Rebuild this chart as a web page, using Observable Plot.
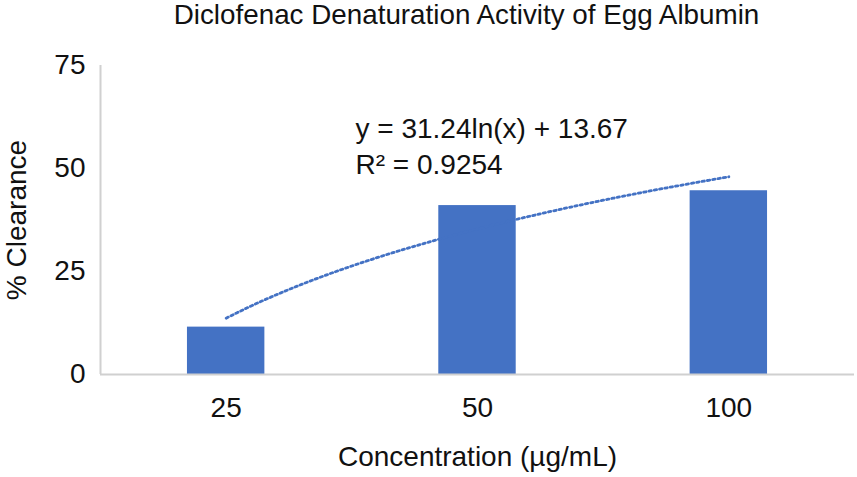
<!DOCTYPE html>
<html>
<head>
<meta charset="utf-8">
<script src="https://cdn.jsdelivr.net/npm/d3@7"></script>
<script src="https://cdn.jsdelivr.net/npm/@observablehq/plot@0.6"></script>
<style>
  html, body { margin: 0; padding: 0; background: #fff; }
  #title { width: 857px; height: 30px; line-height: 30px; box-sizing: border-box; padding-left: 76px;
           text-align: center; font-family: "Liberation Sans", Arial, sans-serif; font-size: 27.8px; color: #111; white-space: nowrap; }
  svg { display: block; }
</style>
</head>
<body>
<div id="title">Diclofenac Denaturation Activity of Egg Albumin</div>
<div id="chart"></div>
<script>
// Data
const categories = ["25", "50", "100"];
const clearance = [11.5, 41.0, 44.6];
const yTicks = [0, 25, 50, 75];
// Logarithmic trendline shown on the chart: y = a ln(x) + b, x = category index
const trendA = 31.24;
const trendB = 13.67;
const trendEquation = "y = 31.24ln(x) + 13.67";
const trendR2 = "R² = 0.9254";
const xLabel = "Concentration (µg/mL)";
const yLabel = "% Clearance";

const barHalf = 0.154;
const bars = categories.map((c, i) => ({cat: c, idx: i + 1, value: clearance[i]}));
const trend = d3.range(1, 3.0001, 0.02).map(x => ({x, y: trendA * Math.log(x) + trendB}));

const font = '"Liberation Sans", Arial, sans-serif';
const blue = "#4472C4";
const ink = "#111";

const chart = Plot.plot({
  width: 857,
  height: 447,
  marginLeft: 100,
  marginRight: 3,
  marginTop: 35,
  marginBottom: 103,
  style: {fontFamily: font, fontSize: "28px", color: ink, background: "#fff"},
  x: {type: "linear", domain: [0.5, 3.5]},
  y: {domain: [0, 75]},
  marks: [
    Plot.rectY(bars, {x1: d => d.idx - barHalf, x2: d => d.idx + barHalf, y1: 0, y2: "value", fill: blue}),
    Plot.ruleY([0], {stroke: "#d0d0d0", strokeWidth: 2}),
    Plot.ruleX([0.5], {y1: 0, y2: 75, stroke: "#d0d0d0", strokeWidth: 2}),
    Plot.line(trend, {x: "x", y: "y", stroke: blue, strokeWidth: 2.8, strokeDasharray: "2.4,3", curve: "linear"}),
    Plot.axisY({ticks: yTicks, tickSize: 0, tickPadding: 15, label: null, fontSize: 28}),
    Plot.axisX({ticks: [1, 2, 3], tickFormat: d => categories[d - 1], tickSize: 0, tickPadding: 23, label: null, fontSize: 28}),
    Plot.text([yLabel], {frameAnchor: "left", rotate: -90, dx: -83, textAnchor: "middle", lineAnchor: "middle", fontSize: 28, fill: ink}),
    Plot.text([xLabel], {frameAnchor: "bottom", dy: 91, textAnchor: "middle", lineAnchor: "bottom", fontSize: 28, fill: ink}),
    Plot.text([trendEquation], {frameAnchor: "top-left", dx: 255, dy: 72, textAnchor: "start", lineAnchor: "bottom", fontSize: 28, fill: ink}),
    Plot.text([trendR2], {frameAnchor: "top-left", dx: 255, dy: 108, textAnchor: "start", lineAnchor: "bottom", fontSize: 28, fill: ink})
  ]
});
document.getElementById("chart").appendChild(chart);
</script>
</body>
</html>
